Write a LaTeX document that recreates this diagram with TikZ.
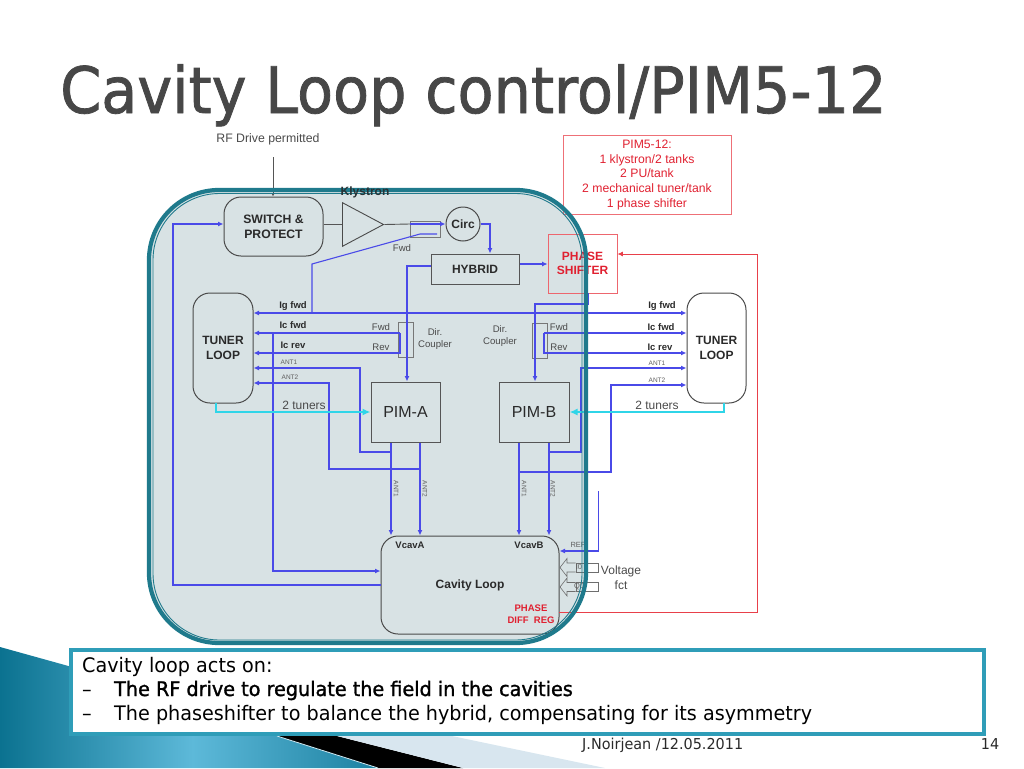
\documentclass[tikz,border=0pt]{standalone}
\usepackage{fontspec}
\setmainfont{Liberation Sans}
\newfontfamily\titlefont{DejaVu Sans}[FakeStretch=0.92,FakeBold=1.2]
\newfontfamily\slidefont{DejaVu Sans}[FakeStretch=0.96]
\newfontfamily\slidebold{DejaVu Sans}[FakeStretch=0.96,FakeBold=1.4]
\usetikzlibrary{arrows.meta,shapes.geometric,calc}
\definecolor{wire}{HTML}{4A4AE8}
\definecolor{redw}{HTML}{E8404A}
\definecolor{teal1}{HTML}{1F7A8C}
\definecolor{teal2}{HTML}{2F9DB8}
\definecolor{panel}{HTML}{D8E2E4}
\definecolor{ink}{HTML}{2A2A2A}
\definecolor{boxline}{HTML}{555555}
\definecolor{cyanw}{HTML}{2FD5E8}
\definecolor{redtxt}{HTML}{E02030}
\definecolor{gradL}{HTML}{0B7290}
\definecolor{gradM}{HTML}{5DB9D9}
\definecolor{gradR}{HTML}{1A7F9F}
\definecolor{lightband}{HTML}{D8E6EF}
\newcommand{\fs}[1]{\fontsize{#1}{#1}\selectfont}
\tikzset{
  x=1pt,y=-1pt,
  tipb/.style={-{Latex[length=5.5pt,width=5pt]}},
  wireline/.style={draw=wire,line width=1.1pt},
  wirearrow/.style={wireline,tipb},
  wiredbl/.style={wireline,{Latex[length=5.5pt,width=5pt]}-{Latex[length=5.5pt,width=5pt]}},
  redline/.style={draw=redw,line width=0.9pt},
  cyanline/.style={draw=cyanw,line width=2pt,-{Latex[length=8pt,width=7pt]}},
  blackline/.style={draw=boxline,line width=0.9pt},
  roundbox/.style={draw=ink!85,line width=1pt,rounded corners=17pt,inner sep=0pt},
  plainbox/.style={draw=boxline,line width=1pt,inner sep=0pt},
  lbl/.style={inner sep=0pt,text=ink!85,font=\fs{9.6},align=center},
  bold/.style={inner sep=0pt,text=ink,font=\fs{12}\bfseries,align=center},
  sig/.style={inner sep=0pt,text=ink,font=\fs{9.5}\bfseries},
  tiny/.style={inner sep=0pt,text=ink!75,font=\fs{6.5}},
  redbold/.style={inner sep=0pt,text=redtxt,font=\fs{9.5}\bfseries,align=center},
}
\begin{document}
\begin{tikzpicture}
\useasboundingbox (0,0) rectangle (1024,768);
% slide decoration
\begin{scope}
\clip (0,647) -- (72,667) -- (72,736) -- (277,736) -- (378,768) -- (0,768) -- cycle;
\shade[left color=gradL,right color=gradR,middle color=gradM] (0,640) rectangle (385,768);
\end{scope}
\fill[black] (277,736) -- (337,736) -- (463,768) -- (378,768) -- cycle;
\draw[white!70!gradM,line width=0.8pt] (277,736) -- (378,768);
\fill[lightband] (337,736) -- (452,736) -- (605,768) -- (463,768) -- cycle;
% title
\node[inner sep=0pt,anchor=base west,text=black!72,font=\titlefont\fs{64}] (title) at (60,113) {Cavity Loop control/PIM5-12};
% panel fill
\fill[panel,rounded corners=70pt] (149,190) rectangle (586,643);
% info box
\node[draw=redw!75,line width=0.7pt,inner sep=0pt,minimum width=168pt,minimum height=79pt,text=redtxt,font=\fs{12.2},align=center] (info) at (647,175) {PIM5-12:\\[2.6pt]1 klystron/2 tanks\\[2.6pt]2 PU/tank\\[2.6pt]2 mechanical tuner/tank\\[2.6pt]1 phase shifter};
% nodes
\node[roundbox,minimum width=99pt,minimum height=59pt,font=\fs{12.2}\bfseries,align=center,text=ink] (sw) at (273.5,226.5) {SWITCH \&\\[2.5pt]PROTECT};
\node[draw=ink!85,line width=0.9pt,isosceles triangle,isosceles triangle apex angle=56,minimum height=41pt,minimum width=39pt,inner sep=0pt,anchor=lower side] (kly) at (342,224.5) {};
\node[draw=boxline!80,line width=0.8pt,inner sep=0pt,minimum width=30pt,minimum height=16pt] (cpl) at (425,229) {};
\node[circle,draw=ink!85,line width=1pt,minimum size=34pt,inner sep=0pt,font=\fs{12}\bfseries,text=ink] (circ) at (463,224) {Circ};
\node[plainbox,minimum width=88pt,minimum height=30pt,font=\fs{12}\bfseries,text=ink] (hyb) at (475,269) {HYBRID};
\node[draw=redw!80,line width=0.8pt,inner sep=0pt,minimum width=69pt,minimum height=59pt,font=\fs{12}\bfseries,text=redtxt,align=center] (ps) at (582.5,263.5) {PHASE\\[2.5pt]SHIFTER};
\node[roundbox,minimum width=60pt,minimum height=110pt,font=\fs{12}\bfseries,align=center,text=ink] (tl) at (223,348) {TUNER\\[3pt]LOOP};
\node[roundbox,minimum width=59pt,minimum height=110pt,font=\fs{12}\bfseries,align=center,text=ink] (tr) at (716.5,348) {TUNER\\[3pt]LOOP};
\node[plainbox,minimum width=69pt,minimum height=60pt,font=\fs{16},text=ink] (pa) at (405.5,412) {PIM-A};
\node[plainbox,minimum width=70pt,minimum height=60pt,font=\fs{16},text=ink] (pb) at (534,412) {PIM-B};
\node[roundbox,minimum width=178pt,minimum height=98pt] (cav) at (470,585) {};
\node[draw=boxline!80,line width=0.7pt,inner sep=0pt,minimum width=15pt,minimum height=35pt] (dcl) at (405.5,339.5) {};
\node[draw=boxline!80,line width=0.7pt,inner sep=0pt,minimum width=15pt,minimum height=35pt] (dcr) at (539.5,340.5) {};
\node[draw=boxline!85,line width=0.7pt,inner sep=0pt,minimum width=22pt,minimum height=9pt] (i0) at (587,567.5) {};
\node[draw=boxline!85,line width=0.7pt,inner sep=0pt,minimum width=22pt,minimum height=9.5pt] (q0) at (587,587) {};
% free ends and junctions
\coordinate (rfend) at (273,157);
\coordinate (cplA) at (410,224);
\coordinate (fwdend) at (437,234);
\coordinate (reftop) at (598.5,491);
\coordinate (pdr) at (559,612);
\coordinate (psstub) at (588,304);
\coordinate (igj) at (312,313);
% arrows into switch
\draw[blackline,-{Latex[length=3pt,width=3pt]}] (rfend) -- (sw.north -| rfend);
\draw[blackline] (sw.east |- kly.apex) -- (kly.lower side);
\draw[blackline] (kly.apex) -- (cplA);
\draw[wirearrow] (cplA) -- (circ.west);
\draw[wireline] (fwdend) -- (420,234) -- (312,264) -- (igj);
\draw[wirearrow] (circ.east) -| (hyb.north -| 490,0);
\draw[wirearrow] (hyb.west |- 0,266) -- (407,266) -- (pa.north -| 407,0);
\draw[wirearrow] (hyb.east |- 0,264) -- (ps.west |- 0,264);
\draw[redline,{Latex[length=5.5pt,width=5pt]}-] (ps.east |- 0,254) -- (757,254) -- (757,612) -- (pdr);
\draw[wirearrow] (ps.south -| 588,0) -- (psstub) -- (535,304) -- (pb.north -| 535,0);
% horizontal signals
\draw[wiredbl] (tl.east |- igj) -- (tr.west |- igj);
\draw[wirearrow] (400,333) -- (tl.east |- 0,333);
\draw[wirearrow] (400,333) -- (400,353) -- (tl.east |- 0,353);
\draw[wirearrow] (544,333) -- (tr.west |- 0,333);
\draw[wirearrow] (544,333) -- (544,353) -- (tr.west |- 0,353);
\draw[wirearrow] (391,452) -- (360,452) -- (360,368) -- (tl.east |- 0,368);
\draw[wirearrow] (420,469) -- (329,469) -- (329,383) -- (tl.east |- 0,383);
\draw[wirearrow] (549,452) -- (581,452) -- (581,368) -- (tr.west |- 0,368);
\draw[wirearrow] (519,472) -- (611,472) -- (611,385) -- (tr.west |- 0,385);
\draw[wirearrow] (273,333) -- (273,571) -- (cav.west |- 0,571);
\draw[wirearrow] (cav.west |- 0,585) -- (173,585) -- (173,224) -- (sw.west |- 0,224);
% PIM to cavity
\draw[wirearrow] (pa.south -| 391,0) -- (cav.north -| 391,0);
\draw[wirearrow] (pa.south -| 420,0) -- (cav.north -| 420,0);
\draw[wirearrow] (pb.south -| 519,0) -- (cav.north -| 519,0);
\draw[wirearrow] (pb.south -| 549,0) -- (cav.north -| 549,0);
\draw[wirearrow] (reftop) -- (598.5,551) -- (cav.east |- 0,551);
% cyan
\draw[cyanline] (216,403) -- (216,412) -- (pa.west);
\draw[cyanline] (724,403) -- (724,412) -- (pb.east);
% I/Q block arrows
\draw[draw=boxline!85,line width=0.6pt] (i0.west |- 0,563) -- (567,563) -- (567,558.5) -- (560,567.5) -- (567,576.5) -- (567,572) -- (i0.west |- 0,572);
\draw[draw=boxline!85,line width=0.6pt] (q0.west |- 0,582.5) -- (567,582.5) -- (567,578) -- (560,587) -- (567,596) -- (567,591.5) -- (q0.west |- 0,591.5);
% texts
\node[lbl,font=\fs{12.3}] (t1) at (268,139) {RF Drive permitted};
\node[lbl] (t3) at (402,248) {Fwd};
\node[lbl] (t4) at (381,327) {Fwd};
\node[lbl] (t5) at (381,347) {Rev};
\node[lbl] (t6) at (435,339) {Dir.\\[1.5pt]Coupler};
\node[lbl] (t7) at (500,336) {Dir.\\[1.5pt]Coupler};
\node[lbl] (t8) at (559,327) {Fwd};
\node[lbl] (t9) at (559,347) {Rev};
\node[sig] (a1) at (293,306) {Ig fwd};
\node[sig] (a2) at (293,325) {Ic fwd};
\node[sig] (a3) at (293,345) {Ic rev};
\node[tiny] (a4) at (289,362) {ANT1};
\node[tiny] (a5) at (290,377) {ANT2};
\node[sig] (b1) at (662,306) {Ig fwd};
\node[sig] (b2) at (661,327) {Ic fwd};
\node[sig] (b3) at (660,347) {Ic rev};
\node[tiny] (b4) at (657,363) {ANT1};
\node[tiny] (b5) at (657,380) {ANT2};
\node[lbl,font=\fs{12}] (c1) at (304,405) {2 tuners};
\node[lbl,font=\fs{12}] (c2) at (657,405) {2 tuners};
\node[tiny,rotate=-90] (d1) at (396,489) {ANT1};
\node[tiny,rotate=-90] (d2) at (425,489) {ANT2};
\node[tiny,rotate=-90] (d3) at (524,489) {ANT1};
\node[tiny,rotate=-90] (d4) at (553,489) {ANT2};
\node[sig] (e1) at (410,545) {VcavA};
\node[sig] (e2) at (529,545) {VcavB};
\node[bold] (e3) at (470,585) {Cavity Loop};
\node[redbold] (e4) at (531,614) {PHASE\\[2pt]DIFF\ \ REG};
\node[tiny,font=\fs{7.5}] (e5) at (578,545) {REF};
\node[tiny,font=\fs{7.5}] (e7) at (579,567) {I0};
\node[tiny,font=\fs{7.5}] (e8) at (579,587) {Q0};
\node[lbl,font=\fs{12}] (e6) at (621,577.5) {Voltage\\[2.5pt]fct};
% panel frame on top
\draw[teal1,line width=4.2pt,rounded corners=70pt] (149,190) rectangle (586,643);
\draw[teal1,line width=0.9pt,rounded corners=66.5pt] (153,193.5) rectangle (582,640);
\node[bold,text=ink!90!teal1] (t2) at (365,192) {Klystron};
% text box
\node[draw=teal2,line width=4pt,fill=white,inner sep=0pt,minimum width=913pt,minimum height=84pt] (note) at (527.5,691.5) {};
\draw[teal2,line width=0.9pt] ($(note.north west)+(3.5,3.5)$) rectangle ($(note.south east)+(-3.5,-3.5)$);
\node[inner sep=0pt,anchor=base west,font=\slidefont\fs{20},text=black] (n1) at (82,672) {Cavity loop acts on:};
\node[inner sep=0pt,anchor=base west,font=\slidefont\fs{20},text=black] (n2a) at (82,696) {–};
\node[inner sep=0pt,anchor=base west,font=\slidebold\fs{20},text=black] (n2) at (114,696) {The RF drive to regulate the field in the cavities};
\node[inner sep=0pt,anchor=base west,font=\slidefont\fs{20},text=black] (n3a) at (82,720) {–};
\node[inner sep=0pt,anchor=base west,font=\slidefont\fs{20},text=black] (n3) at (114,720) {The phaseshifter to balance the hybrid, compensating for its asymmetry};
\node[inner sep=0pt,anchor=base west,font=\slidefont\fs{15},text=ink] (foot) at (582,749) {J.Noirjean /12.05.2011};
\node[inner sep=0pt,anchor=base,font=\slidefont\fs{15},text=ink] (pg) at (990,749) {14};
\end{tikzpicture}
\end{document}
